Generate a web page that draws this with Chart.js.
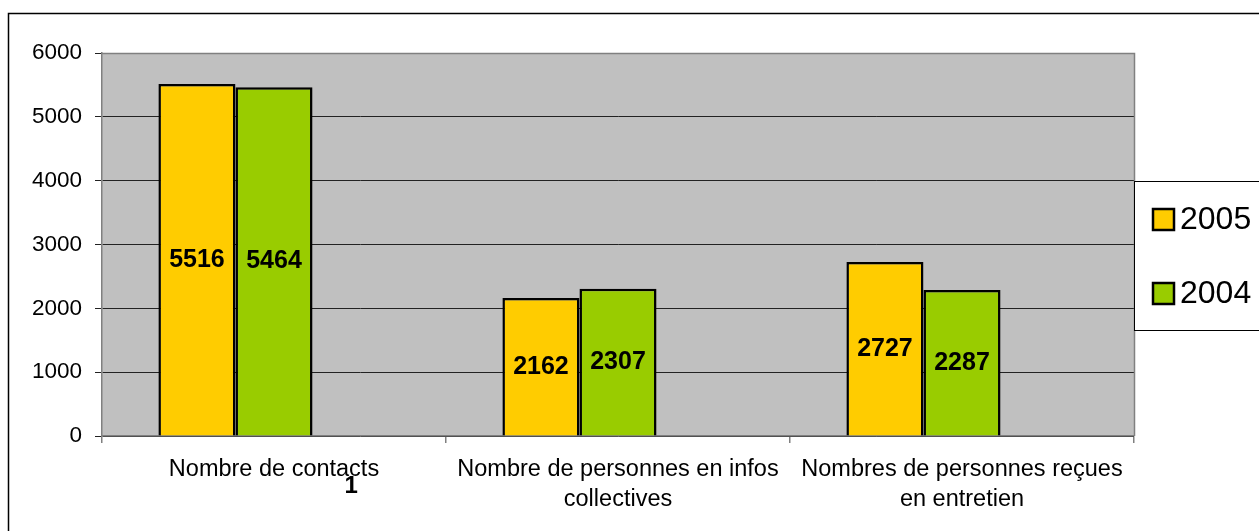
<!DOCTYPE html>
<html>
<head>
<meta charset="utf-8">
<script src="https://cdn.jsdelivr.net/npm/chart.js@4/dist/chart.umd.min.js"></script>
<style>
  html, body { margin: 0; padding: 0; background: #ffffff; }
  canvas { display: block; }
</style>
</head>
<body>
<canvas id="c" width="1259" height="531"></canvas>
<script>
const categories = [
  ["Nombre de contacts"],
  ["Nombre de personnes en infos", "collectives"],
  ["Nombres de personnes reçues", "en entretien"]
];
const seriesLabels = ["2005", "2004"];
const values2005 = [5516, 2162, 2727];
const values2004 = [5464, 2307, 2287];
const spacerValues = [null, null, null];
const yTicks = [0, 1000, 2000, 3000, 4000, 5000, 6000];
const strayText = "1";

const FONT = "'Liberation Sans', Arial, sans-serif";

const frameAndPlot = {
  id: 'frameAndPlot',
  beforeDraw(chart) {
    const ctx = chart.ctx;
    ctx.save();
    ctx.fillStyle = '#ffffff';
    ctx.fillRect(0, 0, chart.width, chart.height);
    ctx.strokeStyle = '#000000';
    ctx.lineWidth = 1.5;
    ctx.strokeRect(8.5, 13.5, chart.width + 20, chart.height + 20);
    const a = chart.chartArea;
    ctx.fillStyle = '#c0c0c0';
    ctx.fillRect(a.left, a.top, a.right - a.left, a.bottom - a.top);
    ctx.restore();
  },
  beforeDatasetsDraw(chart) {
    const ctx = chart.ctx;
    const a = chart.chartArea;
    ctx.save();
    ctx.strokeStyle = '#808080';
    ctx.lineWidth = 1.5;
    ctx.beginPath();
    ctx.moveTo(a.left, a.top + 0.5);
    ctx.lineTo(a.right + 0.5, a.top + 0.5);
    ctx.lineTo(a.right + 0.5, a.bottom);
    ctx.stroke();
    ctx.restore();
  }
};

const valueLabels = {
  id: 'valueLabels',
  afterDatasetsDraw(chart) {
    const ctx = chart.ctx;
    ctx.save();
    ctx.font = "bold 25px " + FONT;
    ctx.fillStyle = '#000000';
    ctx.textAlign = 'center';
    ctx.textBaseline = 'middle';
    chart.data.datasets.forEach((ds, di) => {
      if (!ds.label) return;
      const meta = chart.getDatasetMeta(di);
      meta.data.forEach((el, i) => {
        const v = ds.data[i];
        if (v == null) return;
        ctx.fillText(String(v), el.x, (el.y + el.base) / 2);
      });
    });
    // stray "1" text sits under the (empty) third series slot of the first category
    const spacerMeta = chart.getDatasetMeta(2);
    const el = spacerMeta.data[0];
    if (el && isFinite(el.x)) {
      ctx.font = "bold 24px " + FONT;
      ctx.fillText(strayText, el.x, chart.chartArea.bottom + 50);
    }
    ctx.restore();
  }
};

const boxLegend = {
  id: 'boxLegend',
  afterDraw(chart) {
    const ctx = chart.ctx;
    const a = chart.chartArea;
    const left = a.right;
    const top = 181.5;
    const bottom = 330.5;
    ctx.save();
    ctx.fillStyle = '#ffffff';
    ctx.fillRect(left + 1, top, chart.width - left, bottom - top);
    ctx.strokeStyle = '#000000';
    ctx.lineWidth = 1;
    ctx.strokeRect(left + 0.5, top, chart.width, bottom - top);
    const items = chart.data.datasets.filter(d => d.label);
    items.forEach((ds, i) => {
      const y = 209 + i * 74;
      ctx.fillStyle = ds.backgroundColor;
      ctx.fillRect(left + 19, y, 21, 21);
      ctx.strokeStyle = '#000000';
      ctx.lineWidth = 2.5;
      ctx.strokeRect(left + 19, y, 21, 21);
      ctx.fillStyle = '#000000';
      ctx.font = "32px " + FONT;
      ctx.textAlign = 'left';
      ctx.textBaseline = 'middle';
      ctx.fillText(ds.label, left + 46, y + 11);
    });
    ctx.restore();
  }
};

new Chart(document.getElementById('c'), {
  type: 'bar',
  data: {
    labels: categories,
    datasets: [
      { label: seriesLabels[0], data: values2005, backgroundColor: '#ffcc00', borderColor: '#000000', borderWidth: 2.5 },
      { label: seriesLabels[1], data: values2004, backgroundColor: '#99cc00', borderColor: '#000000', borderWidth: 2.5 },
      { label: '', data: spacerValues, backgroundColor: 'rgba(0,0,0,0)', borderWidth: 0 }
    ]
  },
  options: {
    responsive: false,
    animation: false,
    devicePixelRatio: 1,
    layout: { padding: { top: 53, right: 125, bottom: 0, left: 0 } },
    datasets: { bar: { categoryPercentage: 0.672, barPercentage: 1.0 } },
    plugins: {
      legend: { display: false },
      tooltip: { enabled: false }
    },
    scales: {
      x: {
        grid: { display: true, drawOnChartArea: false, offset: true, tickLength: 7, color: '#808080', lineWidth: 1.5 },
        border: { display: true, color: '#808080', width: 1.5 },
        ticks: {
          color: '#000000',
          padding: 11,
          maxRotation: 0,
          autoSkip: false,
          font: { family: FONT, size: 23.5, lineHeight: 1.28 }
        },
        afterFit(scale) { scale.height = 95; }
      },
      y: {
        min: yTicks[0],
        max: yTicks[yTicks.length - 1],
        afterBuildTicks(scale) { scale.ticks = yTicks.map(v => ({ value: v })); },
        grid: { color: '#222222', lineWidth: 1, tickLength: 7, tickColor: '#222222' },
        border: { display: true, color: '#808080', width: 1.5 },
        ticks: {
          color: '#000000',
          padding: 13,
          font: { family: FONT, size: 22.5 },
          callback: (v) => String(v)
        },
        afterFit(scale) { scale.width = 102; }
      }
    }
  },
  plugins: [frameAndPlot, valueLabels, boxLegend]
});
</script>
</body>
</html>
